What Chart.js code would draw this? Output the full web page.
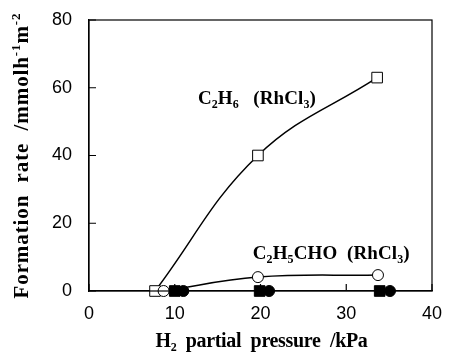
<!DOCTYPE html>
<html><head><meta charset="utf-8">
<script src="https://cdn.jsdelivr.net/npm/chart.js@4"></script>
<style>html,body{margin:0;padding:0;background:#fff}#wrap{width:449px;height:361px}</style>
</head><body><div id="wrap"><canvas id="c" width="449" height="361"></canvas></div>
<script>
// ---- data ----
const xTicks = [0, 10, 20, 30, 40];
const yTicks = [0, 20, 40, 60, 80];
const c2h6X = [7.7, 19.7, 33.6];
const c2h6Y = [0, 40, 63];
const propX = [8.7, 19.7, 33.7];
const propY = [0, 4.1, 4.7];
const filledSqX = [10.0, 19.9, 33.9];
const filledSqY = [0, 0, 0];
const filledCirX = [11.0, 21.0, 35.1];
const filledCirY = [0, 0, 0];
const xTitle = [['H',''],['2','sub'],['  partial  pressure  /kPa','']];
const yTitle = [['Formation  rate  /mmolh',''],['-1','sup'],['m',''],['-2','sup']];
const label1 = [['C',''],['2','sub'],['H',''],['6','sub'],['   (RhCl',''],['3','sub'],[')','']];
const label2 = [['C',''],['2','sub'],['H',''],['5','sub'],['CHO  (RhCl',''],['3','sub'],[')','']];

const pts = (xs, ys) => xs.map((x, i) => ({x: x, y: ys[i]}));

const SERIF = '"Liberation Serif","Times New Roman",serif';
function drawRich(ctx, segs, x, y, size, align, target) {
  const main = 'bold ' + size + 'px ' + SERIF;
  const small = 'bold ' + Math.round(size * 0.62) + 'px ' + SERIF;
  ctx.letterSpacing = '0px';
  let w = 0, n = 0;
  segs.forEach(s => { ctx.font = s[1] ? small : main; w += ctx.measureText(s[0]).width; n += s[0].length; });
  let ls = 0;
  if (target) { ls = (target - w) / n; w = target; }
  let cx = align === 'center' ? x - w / 2 : x;
  ctx.textBaseline = 'alphabetic';
  ctx.textAlign = 'left';
  segs.forEach(s => {
    ctx.font = s[1] ? small : main;
    let dy = 0;
    if (s[1] === 'sub') dy = size * 0.22;
    if (s[1] === 'sup') dy = -size * 0.36;
    ctx.letterSpacing = ls + 'px';
    ctx.fillText(s[0], cx, y + dy);
    cx += ctx.measureText(s[0]).width;
  });
  ctx.letterSpacing = '0px';
}

const deco = {
  id: 'deco',
  afterDraw(chart) {
    const ctx = chart.ctx, a = chart.chartArea;
    const xs = chart.scales.x, ys = chart.scales.y;
    ctx.save();
    ctx.strokeStyle = '#000';
    ctx.lineWidth = 1.2;
    ctx.strokeRect(a.left, a.top, a.right - a.left, a.bottom - a.top);
    ctx.beginPath();
    xTicks.forEach(v => { const p = xs.getPixelForValue(v); ctx.moveTo(p, a.bottom); ctx.lineTo(p, a.bottom - 7); });
    yTicks.forEach(v => { const p = ys.getPixelForValue(v); ctx.moveTo(a.left, p); ctx.lineTo(a.left + 7, p); });
    ctx.stroke();
    ctx.fillStyle = '#000';
    drawRich(ctx, xTitle, (a.left + a.right) / 2 + 1, 347, 20, 'center', 212);
    ctx.save();
    ctx.translate(28, (a.top + a.bottom) / 2);
    ctx.rotate(-Math.PI / 2);
    drawRich(ctx, yTitle, 0, 0, 21, 'center', 286);
    ctx.restore();
    drawRich(ctx, label1, xs.getPixelForValue(12.7), ys.getPixelForValue(55.2), 19, 'left', 118);
    drawRich(ctx, label2, xs.getPixelForValue(19.1), ys.getPixelForValue(9.4), 19, 'left', 157);
    ctx.restore();
  }
};

new Chart(document.getElementById('c'), {
  type: 'scatter',
  data: {
    datasets: [
      {data: pts(c2h6X, c2h6Y), showLine: true, borderColor: '#000', borderWidth: 1.5,
       pointStyle: 'rect', pointRadius: 7.5, pointBackgroundColor: '#fff', pointBorderColor: '#000', pointBorderWidth: 1,
       tension: 0.4, clip: false, order: 2},
      {data: pts(propX, propY), showLine: true, borderColor: '#000', borderWidth: 1.5,
       pointStyle: 'circle', pointRadius: 5.5, pointBackgroundColor: '#fff', pointBorderColor: '#000', pointBorderWidth: 1,
       tension: 0.4, clip: false, order: 1},
      {data: pts(filledCirX, filledCirY), showLine: false,
       pointStyle: 'circle', pointRadius: 5.5, pointBackgroundColor: '#000', pointBorderColor: '#000', clip: false, order: 0},
      {data: pts(filledSqX, filledSqY), showLine: false,
       pointStyle: 'rect', pointRadius: 7.5, pointBackgroundColor: '#000', pointBorderColor: '#000', clip: false, order: 0}
    ]
  },
  options: {
    responsive: false, animation: false,
    layout: {padding: {top: 20, right: 17, left: 0, bottom: 0}},
    plugins: {legend: {display: false}, tooltip: {enabled: false}},
    scales: {
      x: {type: 'linear', min: 0, max: 40,
          afterBuildTicks: s => { s.ticks = xTicks.map(v => ({value: v})); },
          afterFit: s => { s.height = 70; },
          grid: {display: false}, border: {display: true, color: '#000', width: 1.2},
          ticks: {color: '#000', padding: 4, maxRotation: 0, font: {family: '"Liberation Sans",Arial,sans-serif', size: 18}}},
      y: {type: 'linear', min: 0, max: 80,
          afterBuildTicks: s => { s.ticks = yTicks.map(v => ({value: v})); },
          afterFit: s => { s.width = 89; },
          grid: {display: false}, border: {display: true, color: '#000', width: 1.2},
          ticks: {color: '#000', padding: 9, font: {family: '"Liberation Sans",Arial,sans-serif', size: 18}}}
    }
  },
  plugins: [deco]
});
</script></body></html>
